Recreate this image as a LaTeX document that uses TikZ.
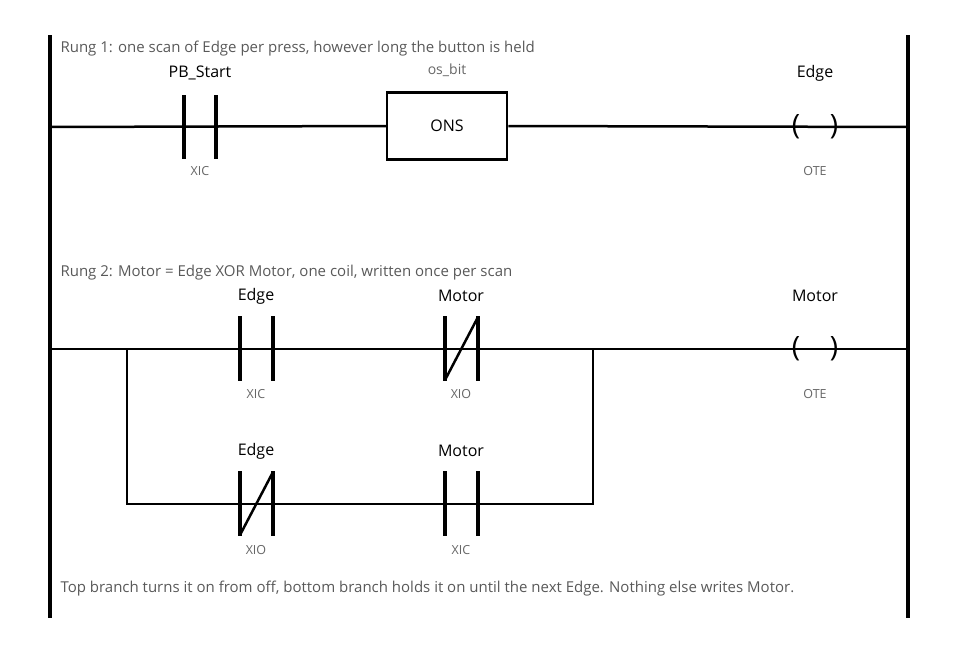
\documentclass[tikz,border=0pt]{standalone}
\usepackage{fontspec}
\setmainfont{Open Sans}
\begin{document}
\begin{tikzpicture}[x=1pt,y=-1pt,
  rail/.style={line width=4pt,black},
  wire/.style={line width=2.5pt,black},
  bar/.style={line width=3.5pt,black},
  tag/.style={font=\fontsize{16}{18}\selectfont,text=black},
  sub/.style={font=\fontsize{12.5}{14}\selectfont,text=black!60},
  note/.style={font=\fontsize{15}{17}\selectfont,text=black!65,anchor=west},
  paren/.style={font=\fontsize{28}{30}\selectfont,inner sep=0pt}]
\useasboundingbox (0,0) rectangle (959,653);
\coordinate (L1) at (50,127); \coordinate (R1) at (908,127);
\coordinate (L2) at (50,349); \coordinate (R2) at (908,349);
\coordinate (bl) at (127,349); \coordinate (br) at (593,349);
\coordinate (bl2) at (127,504); \coordinate (br2) at (593,504);
% rails
\draw[rail] (50,35) coordinate (lt) -- (50,618) coordinate (lb);
\draw[rail] (908,35) coordinate (rt) -- (908,618) coordinate (rb);
% wires
\node[draw,line width=2.5pt,minimum width=120pt,minimum height=67pt,font=\fontsize{16}{18}\selectfont] (ons) at (447,126) {ONS};
\draw[wire] (L1) -- (ons.west);
\draw[wire] (ons.east) -- (R1);
\draw[wire] (L2) -- (R2);
\draw[wire] (bl) -- (bl2) -- (br2) -- (br);
% rung 1 contact
\draw[bar] (184,95) -- (184,159); \draw[bar] (216,95) -- (216,159);
\node[tag] (t1) at (200,73) {PB\_Start};
\node[sub] (s1) at (200,171) {XIC};
\node[sub,font=\fontsize{14}{16}\selectfont] (o1) at (447,70) {os\_bit};
\node[paren] (c1a) at (796,127) {(}; \node[paren] (c1b) at (834,127) {)};
\node[tag] (t2) at (815,73) {Edge};
\node[sub] (s2) at (815,171) {OTE};
\node[note] (n1) at (57,49) {Rung 1: one scan of Edge per press, however long the button is held};
% rung 2
\node[note] (n2) at (57,273) {Rung 2: Motor = Edge XOR Motor, one coil, written once per scan};
\draw[bar] (240,316) -- (240,381); \draw[bar] (273,316) -- (273,381);
\node[tag] (t3) at (256,296) {Edge}; \node[sub] (s3) at (256,394) {XIC};
\draw[bar] (445,316) -- (445,381); \draw[bar] (478,316) -- (478,381);
\draw[line width=2.5pt] (445,380) -- (478,317);
\node[tag] (t4) at (461,296) {Motor}; \node[sub] (s4) at (461,394) {XIO};
\node[paren] (c2a) at (796,349) {(}; \node[paren] (c2b) at (834,349) {)};
\node[tag] (t5) at (815,296) {Motor}; \node[sub] (s5) at (815,394) {OTE};
\draw[bar] (240,471) -- (240,536); \draw[bar] (273,471) -- (273,536);
\draw[line width=2.5pt] (240,535) -- (273,472);
\node[tag] (t6) at (256,451) {Edge}; \node[sub] (s6) at (256,550) {XIO};
\draw[bar] (445,471) -- (445,536); \draw[bar] (478,471) -- (478,536);
\node[tag] (t7) at (461,451) {Motor}; \node[sub] (s7) at (461,550) {XIC};
\node[note] (n3) at (57,589) {Top branch turns it on from off, bottom branch holds it on until the next Edge. Nothing else writes Motor.};
\end{tikzpicture}
\end{document}
